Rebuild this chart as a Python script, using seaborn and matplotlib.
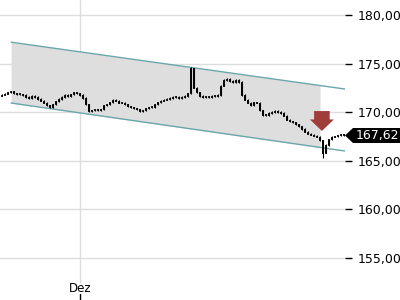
import numpy as np
import matplotlib
matplotlib.use("Agg")
import matplotlib.pyplot as plt
from matplotlib.patches import Polygon
import seaborn as sns
import pandas as pd

# ---- data ----
closes = [171.8, 171.9, 172.05, 172.15, 171.95, 171.85, 171.85, 171.75, 171.55, 171.45,
          171.65, 171.55, 171.35, 171.15, 170.95, 170.7, 170.5, 170.8, 171.1, 171.35,
          171.55, 171.75, 171.65, 171.85, 172.05, 171.95, 171.75, 171.45, 170.8, 170.1,
          170.2, 170.3, 170.2, 170.3, 170.7, 170.8, 171.0, 171.25, 171.15, 170.95,
          170.95, 170.8, 170.6, 170.5, 170.4, 170.3, 170.1, 170.2, 170.4, 170.5,
          170.5, 170.8, 171.0, 171.15, 171.25, 171.35, 171.45, 171.55, 171.55, 171.45,
          171.55, 171.65, 171.95, 174.5, 172.5, 172.05, 171.65, 171.55, 171.55, 171.55,
          171.65, 171.65, 171.75, 172.7, 173.3, 173.4, 173.2, 173.1, 173.3, 173.1,
          171.75, 171.25, 170.95, 170.7, 171.0, 170.95, 170.2, 169.7, 169.7, 169.9,
          170.0, 170.1, 170.0, 169.9, 169.6, 169.2, 169.05, 168.95, 168.75, 168.55,
          168.25, 167.95, 167.75, 167.65, 167.55, 167.45, 167.1, 165.8, 166.6, 167.2,
          167.45, 167.5, 167.62, 167.7, 167.62]
first_open = 171.7
special_lows = {107: 165.3}
special_highs = {63: 174.65}

upper_channel = [177.2, 172.37]
lower_channel = [170.93, 165.98]
channel_x = [3.2, 114.5]
fill_end_x = 106.2

yticks = [155, 160, 165, 170, 175, 180]
month_label = "Dez"
month_x = 26.17
last_price = 167.62
arrow_x = 106.8
arrow_from, arrow_to = 170.1, 168.05

# ---- figure ----
sns.set_theme(style="white")
plt.rcParams['font.family'] = ['DejaVu Sans']
fig = plt.figure(figsize=(4, 3), dpi=100)
ax = fig.add_axes([0, 0, 345 / 400, 1])
ax.set_xlim(-0.5, 114.5)
ax.set_ylim(150.62, 181.55)

for s in ax.spines.values():
    s.set_visible(False)

# grid
for yv in yticks:
    ax.axhline(yv, color="#dddddd", lw=1, zorder=0)
ax.axvline(month_x, ymin=0.06, ymax=1, color="#dddddd", lw=1, zorder=0)

# channel
slope_u = (upper_channel[1] - upper_channel[0]) / (channel_x[1] - channel_x[0])
slope_l = (lower_channel[1] - lower_channel[0]) / (channel_x[1] - channel_x[0])
fx = np.array([channel_x[0], fill_end_x])
ax.fill_between(fx, upper_channel[0] + slope_u * (fx - channel_x[0]),
                lower_channel[0] + slope_l * (fx - channel_x[0]),
                color="#dedede", lw=0, zorder=1)
ch = pd.DataFrame({"x": channel_x * 2, "y": upper_channel + lower_channel,
                   "line": ["u", "u", "l", "l"]})
sns.lineplot(data=ch, x="x", y="y", units="line", estimator=None,
             color="#6aa6aa", lw=1, ax=ax, zorder=2)
ax.set_xlabel("")
ax.set_ylabel("")

# candles
opens = [first_open] + closes[:-1]
for i, (o, c) in enumerate(zip(opens, closes)):
    hi = special_highs.get(i, max(o, c) + 0.06)
    lo = special_lows.get(i, min(o, c) - 0.06)
    ax.vlines(i, lo, hi, color="black", lw=0.8, zorder=3)
    h = c - o
    if abs(h) < 0.1:
        h = 0.1 if h >= 0 else -0.1
    up = c >= o
    ax.bar(i, h, bottom=o, width=0.65, color="white" if up else "black",
           edgecolor="black", linewidth=0.7, zorder=4)

# arrow
ax.annotate("", xy=(arrow_x, arrow_to), xytext=(arrow_x, arrow_from),
            arrowprops=dict(arrowstyle="simple,head_length=0.55,head_width=1.15,tail_width=0.75",
                            fc="#a03c3a", ec="none", mutation_scale=15,
                            shrinkA=0, shrinkB=0), zorder=5)

# axes ticks
ax.yaxis.tick_right()
ax.set_yticks(yticks)
ax.set_yticklabels([f"{v:.2f}".replace(".", ",") for v in yticks])
ax.tick_params(axis="y", direction="out", length=5, width=1, color="black",
               pad=4, labelsize=9, labelcolor="black", right=True)
ax.set_xticks([])

ax.text(month_x, 0.04, month_label, transform=ax.get_xaxis_transform(),
        ha="center", va="center", fontsize=8.5, color="black")
ax.plot([month_x, month_x], [0.0, 0.02], transform=ax.get_xaxis_transform(),
        color="black", lw=1, clip_on=False)

# last price label
ypix = 135.5
pts = [(345, ypix), (353, ypix - 7.5), (400, ypix - 7.5), (400, ypix + 7.5), (353, ypix + 7.5)]
poly = Polygon([(x / 400, 1 - y / 300) for x, y in pts], closed=True,
               transform=fig.transFigure, fc="black", ec="none")
fig.patches.append(poly)
fig.text(377 / 400, 1 - ypix / 300, f"{last_price:.2f}".replace(".", ","),
         color="white", fontsize=9, ha="center", va="center")

fig.savefig("out.png", dpi=100)
